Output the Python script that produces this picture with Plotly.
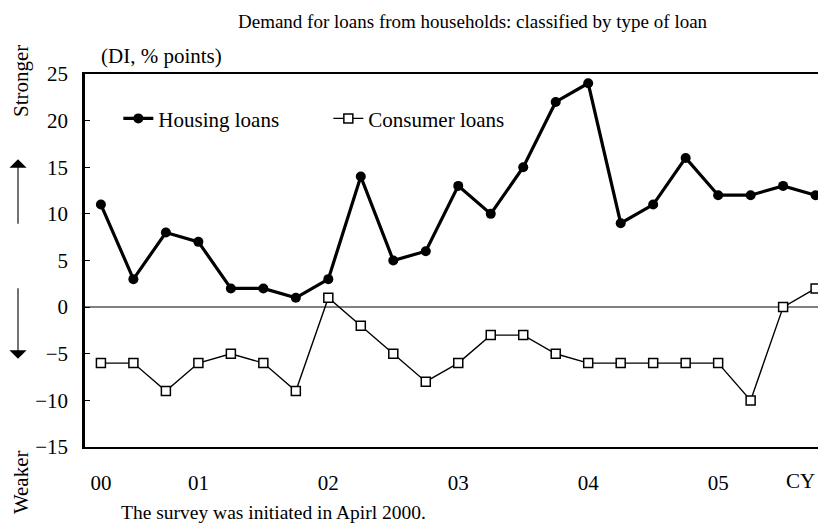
import plotly.graph_objects as go

quarters = list(range(23))
housing = [11, 3, 8, 7, 2, 2, 1, 3, 14, 5, 6, 13, 10, 15, 22, 24, 9, 11, 16, 12, 12, 13, 12]
consumer = [-6, -6, -9, -6, -5, -6, -9, 1, -2, -5, -8, -6, -3, -3, -5, -6, -6, -6, -6, -6, -10, 0, 2]
year_pos = [0, 3, 7, 11, 15, 19]
year_labels = ["00", "01", "02", "03", "04", "05"]
y_ticks = [-15, -10, -5, 0, 5, 10, 15, 20, 25]

FONT = "Liberation Serif, Times New Roman, serif"

fig = go.Figure()
fig.add_trace(go.Scatter(
    x=quarters, y=housing, name="Housing loans", mode="lines+markers",
    line=dict(color="black", width=3.2),
    marker=dict(symbol="circle", size=10, color="black"),
))
fig.add_trace(go.Scatter(
    x=quarters, y=consumer, name="Consumer loans", mode="lines+markers",
    line=dict(color="black", width=1.4),
    marker=dict(symbol="square", size=9, color="white", line=dict(color="black", width=1.5)),
))

fig.update_layout(
    width=818, height=518,
    margin=dict(l=77, r=0, t=66, b=79),
    paper_bgcolor="white", plot_bgcolor="white",
    font=dict(family=FONT, size=21, color="black"),
    showlegend=True,
    legend=dict(orientation="h", x=0.045, y=0.88, xanchor="left", yanchor="middle",
                bgcolor="rgba(0,0,0,0)", font=dict(size=21),
                entrywidth=165, entrywidthmode="pixels", tracegroupgap=0),
    xaxis=dict(range=[-0.49, 22.32], tickmode="array", tickvals=year_pos, ticktext=year_labels,
               showline=True, linecolor="black", linewidth=2, mirror=True,
               showgrid=False, zeroline=False, ticks="", ticklabelstandoff=16,
               tickfont=dict(family=FONT, size=21)),
    yaxis=dict(range=[-15, 25], tickmode="array", tickvals=y_ticks,
               showline=True, linecolor="black", linewidth=2.5, mirror=False,
               showgrid=False, zeroline=True, zerolinecolor="#808080", zerolinewidth=1.5,
               ticks="inside", ticklen=5, tickcolor="black", tickwidth=1,
               ticklabelstandoff=10, tickfont=dict(family=FONT, size=21)),
    annotations=[
        dict(text="Demand for loans from households: classified by type of loan",
             xref="paper", yref="paper", x=(473 - 85) / 741, y=(447 - 23) / 372,
             xanchor="center", yanchor="middle", showarrow=False, font=dict(size=19)),
        dict(text="(DI, % points)", xref="paper", yref="paper",
             x=(99 - 85) / 741, y=(447 - 57) / 372, xanchor="left", yanchor="middle",
             showarrow=False, font=dict(size=21)),
        dict(text="Stronger", xref="paper", yref="paper", x=(21 - 85) / 741,
             y=(447 - 82) / 372, textangle=-90, xanchor="center", yanchor="middle",
             showarrow=False, font=dict(size=21)),
        dict(text="Weaker", xref="paper", yref="paper", x=(21 - 85) / 741,
             y=(447 - 482) / 372, textangle=-90, xanchor="center", yanchor="middle",
             showarrow=False, font=dict(size=21)),
        dict(text="CY", xref="paper", yref="paper", x=(800 - 85) / 741,
             y=(447 - 481) / 372, xanchor="center", yanchor="middle",
             showarrow=False, font=dict(size=21)),
        dict(text="The survey was initiated in Apirl 2000.", xref="paper", yref="paper",
             x=(119 - 85) / 741, y=(447 - 512) / 372, xanchor="left", yanchor="middle",
             showarrow=False, font=dict(size=19.5)),
        # up arrow
        dict(text="", xref="paper", yref="paper",
             x=(18 - 85) / 741, y=(447 - 160) / 372, ax=0, ay=66,
             showarrow=True, arrowhead=1, arrowsize=2.6, arrowwidth=1.1, arrowcolor="black"),
        # down arrow
        dict(text="", xref="paper", yref="paper",
             x=(18 - 85) / 741, y=(447 - 359) / 372, ax=0, ay=-72,
             showarrow=True, arrowhead=1, arrowsize=2.6, arrowwidth=1.1, arrowcolor="black"),
    ],
)

fig.write_html("out.html")
